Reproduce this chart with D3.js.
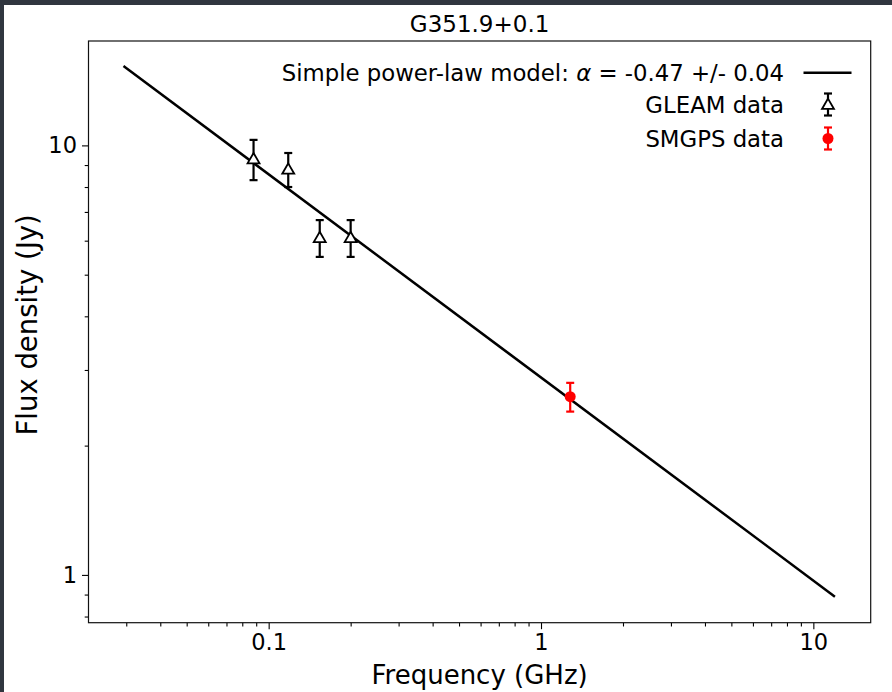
<!DOCTYPE html>
<html>
<head>
<meta charset="utf-8">
<script src="https://cdn.jsdelivr.net/npm/d3@7"></script>
<style>
  body { margin: 0; background: #fff; }
  text { font-family: "DejaVu Sans", sans-serif; fill: #000; }
</style>
</head>
<body>
<svg id="chart" width="892" height="692"></svg>
<script>
// GLEAM points (GHz, Jy)
const gleamFreq = [0.088, 0.118, 0.154, 0.200];
const gleamFlux = [9.3, 8.8, 6.1, 6.1];
const gleamErr = [1.0, 0.8, 0.6, 0.6];
// SMGPS point
const smgpsFreq = [1.28];
const smgpsFlux = [2.6];
const smgpsErr = [0.2];
// power-law model end points
const modelFreq = [0.0293, 12];
const modelFlux = [15.3, 0.89];

const xMajor = [0.1, 1, 10];
const xMajorLabels = ['0.1', '1', '10'];
const xMinor = [0.03, 0.04, 0.05, 0.06, 0.07, 0.08, 0.09, 0.2, 0.3, 0.4, 0.5, 0.6, 0.7, 0.8, 0.9, 2, 3, 4, 5, 6, 7, 8, 9];
const yMajor = [1, 10];
const yMajorLabels = ['1', '10'];
const yMinor = [0.8, 0.9, 2, 3, 4, 5, 6, 7, 8, 9];
const legendLabels = ['Simple power-law model: ', 'GLEAM data', 'SMGPS data'];

const svgWidth = 892;
const svgHeight = 692;
const margin = {top: 41, right: 21.3, bottom: 69.3, left: 88.5};
const width = svgWidth - margin.left - margin.right;
const height = svgHeight - margin.top - margin.bottom;

const svg = d3.select('#chart');

// dark frame of the screenshot
svg.append('rect').attr('width', svgWidth).attr('height', svgHeight).attr('fill', '#30363f');
svg.append('rect').attr('x', 4).attr('y', 5).attr('width', svgWidth - 4).attr('height', svgHeight - 5).attr('fill', '#fff');

const g = svg.append('g').attr('transform', `translate(${margin.left}, ${margin.top})`);

const x = d3.scaleLog().domain([0.0218, 16.24]).range([0, width]);
const y = d3.scaleLog().domain([0.774, 17.5]).range([height, 0]);

// axes
const xAxis = g.append('g')
    .attr('transform', `translate(0, ${height})`)
    .call(d3.axisBottom(x).tickValues(xMajor).tickFormat((d, i) => xMajorLabels[i]).tickSize(6.5).tickPadding(5));
const xAxisMinor = g.append('g')
    .attr('transform', `translate(0, ${height})`)
    .call(d3.axisBottom(x).tickValues(xMinor).tickFormat('').tickSize(3.8));
const yAxis = g.append('g')
    .call(d3.axisLeft(y).tickValues(yMajor).tickFormat((d, i) => yMajorLabels[i]).tickSize(6.5).tickPadding(5));
const yAxisMinor = g.append('g')
    .call(d3.axisLeft(y).tickValues(yMinor).tickFormat('').tickSize(3.8));

[xAxis, xAxisMinor, yAxis, yAxisMinor].forEach(a => {
    a.select('.domain').remove();
    a.selectAll('line').attr('stroke', '#000').attr('stroke-width', 1.1);
    a.selectAll('text').attr('font-size', 22.5).attr('font-family', '"DejaVu Sans"');
});

// frame
g.append('rect')
    .attr('width', width)
    .attr('height', height)
    .attr('fill', 'none')
    .attr('stroke', '#111')
    .attr('stroke-width', 1.2);

// model line
const line = d3.line()
    .x((d, i) => x(modelFreq[i]))
    .y((d, i) => y(modelFlux[i]));
g.append('path')
    .datum(modelFreq)
    .attr('fill', 'none')
    .attr('stroke', '#000')
    .attr('stroke-width', 2.5)
    .attr('d', line);

const tri = d3.symbol().type(d3.symbolTriangle).size(62);

function errorBar(sel, cx, lo, hi, color) {
    sel.append('line').attr('x1', cx).attr('x2', cx).attr('y1', lo).attr('y2', hi)
        .attr('stroke', color).attr('stroke-width', 2.2);
    [lo, hi].forEach(v => sel.append('line').attr('x1', cx - 4).attr('x2', cx + 4).attr('y1', v).attr('y2', v)
        .attr('stroke', color).attr('stroke-width', 2.2));
}

// GLEAM
gleamFreq.forEach((f, i) => {
    const cx = x(f);
    errorBar(g, cx, y(gleamFlux[i] - gleamErr[i]), y(gleamFlux[i] + gleamErr[i]), '#000');
    g.append('path').attr('d', tri)
        .attr('transform', `translate(${cx}, ${y(gleamFlux[i]) + 1})`)
        .attr('fill', '#fff').attr('stroke', '#000').attr('stroke-width', 1.8);
});

// SMGPS
smgpsFreq.forEach((f, i) => {
    const cx = x(f);
    errorBar(g, cx, y(smgpsFlux[i] - smgpsErr[i]), y(smgpsFlux[i] + smgpsErr[i]), '#ff0000');
    g.append('circle').attr('cx', cx).attr('cy', y(smgpsFlux[i])).attr('r', 5.5).attr('fill', '#ff0000');
});

// legend
const legend = svg.append('g');
const rowY = [72.7, 104.5, 138.5];
const textRight = 784;
const handleX = 828;
legendLabels.forEach((lab, i) => {
    const t = legend.append('text')
        .attr('x', textRight)
        .attr('y', rowY[i])
        .attr('dy', '0.36em')
        .attr('text-anchor', 'end')
        .attr('font-size', 22.8);
    t.append('tspan').text(lab);
    if (i === 0) {
        t.append('tspan').attr('font-style', 'italic').text('α');
        t.append('tspan').text(' = -0.47 +/- 0.04');
    }
});
legend.append('line').attr('x1', 803.5).attr('x2', 851.5).attr('y1', rowY[0]).attr('y2', rowY[0])
    .attr('stroke', '#000').attr('stroke-width', 2.5);
errorBar(legend, handleX, rowY[1] + 11, rowY[1] - 11, '#000');
legend.append('path').attr('d', tri)
    .attr('transform', `translate(${handleX}, ${rowY[1] + 1})`)
    .attr('fill', '#fff').attr('stroke', '#000').attr('stroke-width', 1.8);
errorBar(legend, handleX, rowY[2] + 11, rowY[2] - 11, '#ff0000');
legend.append('circle').attr('cx', handleX).attr('cy', rowY[2]).attr('r', 5.5).attr('fill', '#ff0000');

// title and axis labels
svg.append('text')
    .attr('x', margin.left + width / 2)
    .attr('y', 32)
    .attr('text-anchor', 'middle')
    .attr('font-size', 23)
    .text('G351.9+0.1');
svg.append('text')
    .attr('x', margin.left + width / 2)
    .attr('y', 684)
    .attr('text-anchor', 'middle')
    .attr('font-size', 26)
    .text('Frequency (GHz)');
svg.append('text')
    .attr('transform', `translate(37, ${margin.top + height / 2 - 7}) rotate(-90)`)
    .attr('text-anchor', 'middle')
    .attr('font-size', 27.5)
    .text('Flux density (Jy)');
</script>
</body>
</html>
